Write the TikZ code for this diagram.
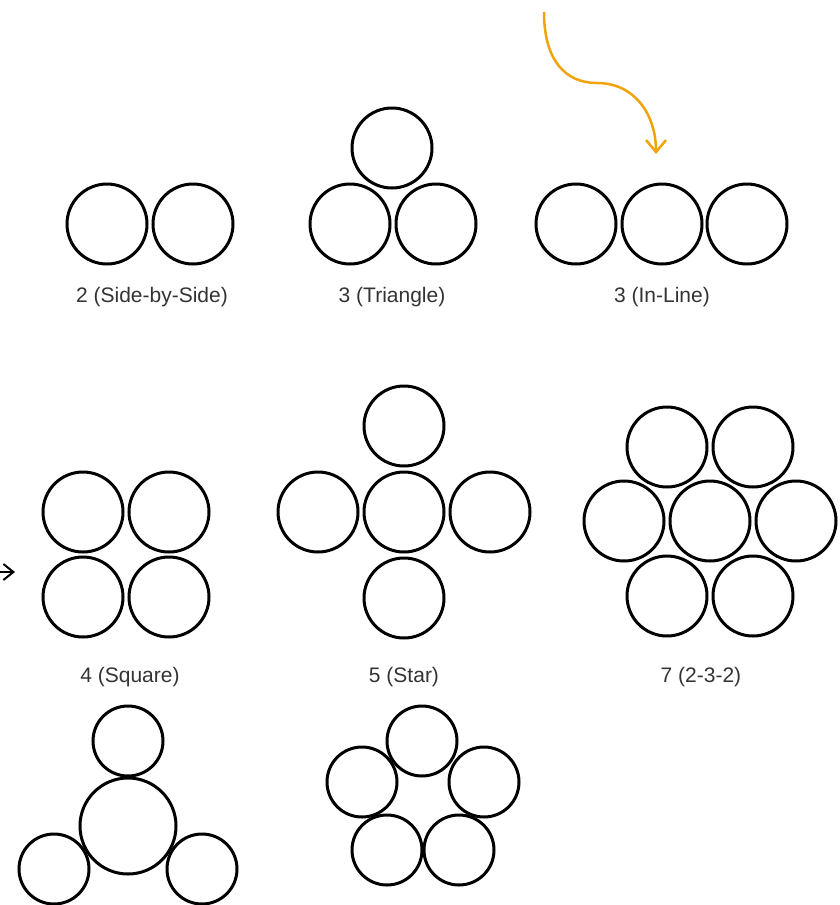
\documentclass[tikz,border=0pt]{standalone}
\usepackage{fontspec}
\setmainfont{Liberation Sans}
\usetikzlibrary{arrows.meta}
\definecolor{lbl}{HTML}{333333}
\definecolor{orng}{HTML}{F0A30A}
\tikzset{
  ring/.style={circle, draw=black, line width=3pt, minimum size=80pt, inner sep=0pt},
  smallring/.style={ring, minimum size=70pt},
  bigring/.style={ring, minimum size=96pt},
  lab/.style={text=lbl, font=\fontsize{21}{25}\selectfont, inner sep=0pt},
  flow/.style={draw=orng, line width=2.5pt, -{Straight Barb[length=12pt, width=20pt, line width=2.5pt]}},
  blackflow/.style={draw=black, line width=2pt, -{Straight Barb[length=10pt, width=16pt, line width=2pt]}}
}
\begin{document}
\begin{tikzpicture}[x=1pt, y=-1pt]
\useasboundingbox (0,0) rectangle (839,905);
\clip (0,0) rectangle (839,905);
% 2 side by side
\node[ring] (s1) at (107,224) {};
\node[ring] (s2) at (193,224) {};
\node[lab] (l1) at (152,297) {2 (Side-by-Side)};
% triangle
\node[ring] (t1) at (392,148) {};
\node[ring] (t2) at (350,224) {};
\node[ring] (t3) at (436,224) {};
\node[lab] (l2) at (392,297) {3 (Triangle)};
% in-line
\node[ring] (i1) at (576,224) {};
\node[ring] (i2) at (662,224) {};
\node[ring] (i3) at (747,224) {};
\node[lab] (l3) at (662,297) {3 (In-Line)};
% square
\node[ring] (q1) at (83,512) {};
\node[ring] (q2) at (169,512) {};
\node[ring] (q3) at (83,597) {};
\node[ring] (q4) at (169,597) {};
\node[lab] (l4) at (130,677) {4 (Square)};
% star
\node[ring] (p0) at (404,512) {};
\node[ring] (p1) at (404,426) {};
\node[ring] (p2) at (318,512) {};
\node[ring] (p3) at (490,512) {};
\node[ring] (p4) at (404,598) {};
\node[lab] (l5) at (404,677) {5 (Star)};
% 2-3-2
\node[ring] (h1) at (667,447) {};
\node[ring] (h2) at (753,447) {};
\node[ring] (h3) at (624,521) {};
\node[ring] (h4) at (710,521) {};
\node[ring] (h5) at (796,521) {};
\node[ring] (h6) at (667,596) {};
\node[ring] (h7) at (753,596) {};
\node[lab] (l6) at (701,677) {7 (2-3-2)};
% 1 big + 3 small
\node[bigring] (b0) at (128,826) {};
\node[smallring] (b1) at (128,741) {};
\node[smallring] (b2) at (54,869) {};
\node[smallring] (b3) at (202,869) {};
% pentagon of 5
\node[smallring] (r1) at (422,741) {};
\node[smallring] (r2) at (362,782) {};
\node[smallring] (r3) at (484,782) {};
\node[smallring] (r4) at (387,850) {};
\node[smallring] (r5) at (459,850) {};
% orange arrow
\coordinate (oa) at (544,12);
\coordinate (ob) at (597,83);
\coordinate (oc) at (656,154);
\draw[flow] (oa) .. controls (544,60) and (565,83) .. (ob) .. controls (635,83) and (656,115) .. (oc);
% black arrow at left edge
\coordinate (ka) at (-30,572);
\coordinate (kb) at (15,572);
\draw[blackflow] (ka) -- (kb);
\end{tikzpicture}
\end{document}
